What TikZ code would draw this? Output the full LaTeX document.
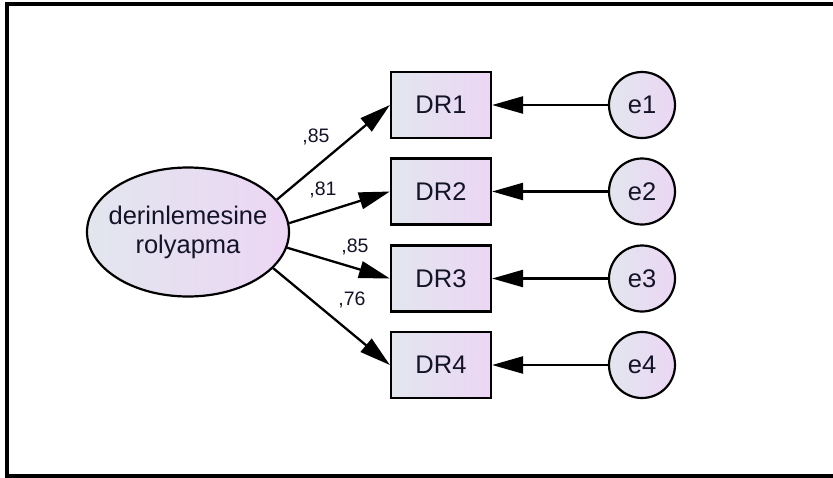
\documentclass[tikz,border=0pt]{standalone}
\usepackage{fontspec}
\setmainfont{Liberation Sans}
\usetikzlibrary{shapes.geometric,arrows.meta}
\definecolor{gradL}{RGB}{226,230,238}
\definecolor{gradR}{RGB}{236,214,244}
\definecolor{txt}{RGB}{20,20,40}
\newcommand{\ctrline}[1]{\makebox[100pt][c]{#1}}
\tikzset{
  semfill/.style={draw=black, line width=2.2pt, left color=gradL, right color=gradR, text=txt},
  latent/.style={semfill, ellipse, minimum width=202pt, minimum height=129pt, inner sep=0pt, text width=100pt, align=center, font=\fontsize{25.5}{29}\selectfont},
  observed/.style={semfill, rectangle, minimum width=100pt, minimum height=66pt, inner sep=0pt, font=\fontsize{25.5}{29}\selectfont},
  errvar/.style={semfill, circle, minimum size=66pt, inner sep=0pt, font=\fontsize{25.5}{29}\selectfont},
  path/.style={line width=2.3pt, -{Triangle[length=31pt,width=17pt]}},
  coef/.style={font=\fontsize{19.5}{22}\selectfont, text=txt, inner sep=0pt}
}
\begin{document}
\begin{tikzpicture}[x=1pt,y=-1pt]
\useasboundingbox (0,0) rectangle (833,477);
\fill[white] (0,0) rectangle (833,477);
\draw[line width=4pt] (840,4) -- (7,4) -- (7,476) -- (840,476);

\node[latent] (lv) at (188,232) {\ctrline{derinlemesine}\\\ctrline{rolyapma}};

\node[observed] (dr1) at (441,105) {DR1};
\node[observed] (dr2) at (441,191.5) {DR2};
\node[observed] (dr3) at (441,278.5) {DR3};
\node[observed] (dr4) at (441,365) {DR4};

\node[errvar] (e1) at (642,105) {e1};
\node[errvar] (e2) at (642,191.5) {e2};
\node[errvar] (e3) at (642,278.5) {e3};
\node[errvar] (e4) at (642,365) {e4};

\draw[path] (lv.20) -- (dr1.west);
\draw[path] (lv.5) -- (dr2.west);
\draw[path] (lv.-9) -- (dr3.west);
\draw[path] (lv.-23) -- (dr4.west);

\draw[path] (e1.west) -- (dr1.east);
\draw[path] (e2.west) -- (dr2.east);
\draw[path] (e3.west) -- (dr3.east);
\draw[path] (e4.west) -- (dr4.east);

\node[coef] (c1) at (316,137) {,85};
\node[coef] (c2) at (323,190) {,81};
\node[coef] (c3) at (355,247) {,85};
\node[coef] (c4) at (352,300) {,76};
\end{tikzpicture}
\end{document}
